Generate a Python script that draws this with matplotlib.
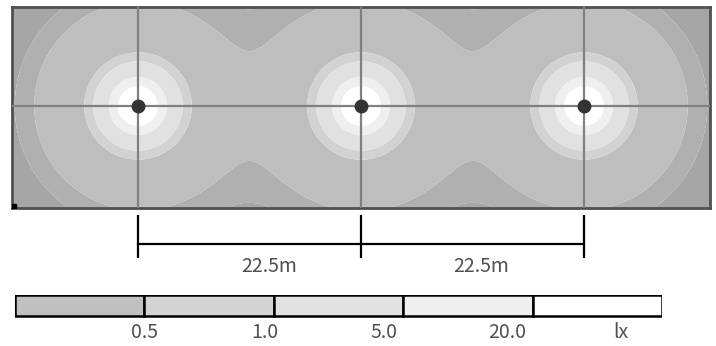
import matplotlib
matplotlib.use("Agg")
import matplotlib.pyplot as plt
from matplotlib.patches import Rectangle
import numpy as np

plt.rcParams['font.family'] = ['Noto Sans CJK JP', 'DejaVu Sans']

# lamp layout (metres along the road), spacing 22.5 m
lamp_x = [0.0, 22.5, 45.0]
lamp_y = [0.0, 0.0, 0.0]
span_labels = ['22.5m', '22.5m']
span_label_x = [13.2, 34.6]

# area shown in the plan view (metres)
area_x = [-12.7, 57.7]
area_y = [-10.3, 10.0]

# simple point source model for the isolux map
lamp_intensity = 310.7
lamp_height = 0.5
falloff = 3.8

# isolux levels (lx) and fills
map_levels = [0.0, 0.022, 0.042, 0.5, 1.0, 5.0, 20.0, 1e9]
map_colors = ['#a6a6a6', '#b0b0b0', '#bebebe', '#d2d2d2', '#e1e1e1', '#efefef', '#ffffff']

# legend bar
legend_colors = ['#c0c0c0', '#d3d3d3', '#e1e1e1', '#efefef', '#ffffff']
legend_labels = ['0.5', '1.0', '5.0', '20.0', 'lx']
legend_label_pos = [1.0, 1.93, 2.85, 3.8, 4.68]

fig = plt.figure(figsize=(7.16, 3.46), dpi=100)
W, H = 716.0, 346.0

# plan view
ax = fig.add_axes([12 / W, 1 - 208 / H, 698 / W, 201 / H])
gx = np.linspace(area_x[0], area_x[1], 700)
gy = np.linspace(area_y[0], area_y[1], 220)
X, Y = np.meshgrid(gx, gy)
E = np.zeros_like(X)
for lx, ly in zip(lamp_x, lamp_y):
    d2 = (X - lx) ** 2 + (Y - ly) ** 2
    E += lamp_intensity / (d2 + lamp_height ** 2) ** (falloff / 2)
ax.contourf(X, Y, E, levels=map_levels, colors=map_colors, antialiased=True)

for lx in lamp_x:
    ax.axvline(lx, color='#808080', lw=1.6, zorder=3)
ax.axhline(0, color='#808080', lw=1.6, zorder=3)
ax.plot(lamp_x, lamp_y, 'o', color='#333333', ms=9, zorder=4)
ax.plot([area_x[0] + 0.25], [area_y[0] + 0.25], 's', color='black', ms=3, zorder=5)

ax.set_xlim(area_x)
ax.set_ylim(area_y)
ax.set_xticks([])
ax.set_yticks([])
for s in ax.spines.values():
    s.set_color('#505050')
    s.set_linewidth(2)

# dimension lines
axd = fig.add_axes([12 / W, 1 - 280 / H, 698 / W, 68 / H])
axd.set_xlim(area_x)
axd.set_ylim(0, 68)
axd.axis('off')
for lx in lamp_x:
    axd.plot([lx, lx], [65, 22], color='black', lw=1.6, solid_capstyle='butt')
axd.plot([lamp_x[0], lamp_x[-1]], [36.5, 36.5], color='black', lw=1.6)
for tx, t in zip(span_label_x, span_labels):
    axd.text(tx, 14, t, ha='center', va='center', fontsize=14, color='#505050')

# legend bar
axl = fig.add_axes([15 / W, 1 - 345 / H, 647 / W, 50 / H])
axl.set_xlim(0, 5)
axl.set_ylim(0, 50)
axl.axis('off')
for i, c in enumerate(legend_colors):
    axl.add_patch(Rectangle((i, 29), 1, 21, facecolor=c, edgecolor='black', lw=1.8))
for p, t in zip(legend_label_pos, legend_labels):
    axl.text(p, 13, t, ha='center', va='center', fontsize=14, color='#505050')

fig.savefig('out.png', dpi=100)
